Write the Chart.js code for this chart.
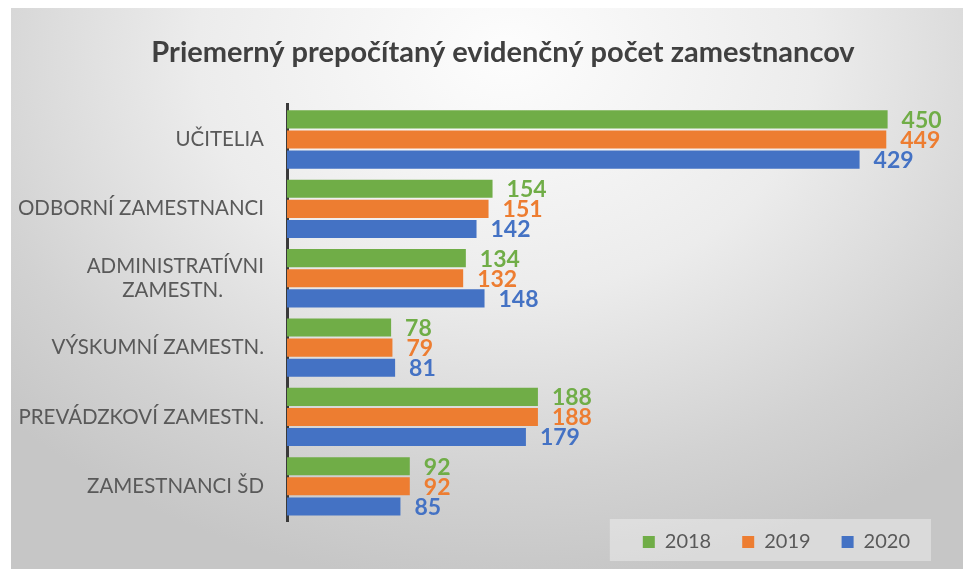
<!DOCTYPE html>
<html>
<head>
<meta charset="utf-8">
<title>Priemerný prepočítaný evidenčný počet zamestnancov</title>
<script src="https://cdn.jsdelivr.net/npm/chart.js@4.4.0/dist/chart.umd.min.js"></script>
<style>
  html, body { margin: 0; padding: 0; background: #fff; overflow: hidden; }
  #panel {
    position: absolute;
    left: 11px;
    top: 8px;
    width: 952px;
    height: 561px;
    background: radial-gradient(ellipse 72% 95% at 52% 8%, #fdfdfd 0%, #ececec 45%, #d2d2d2 80%, #c6c6c6 100%);
  }
</style>
</head>
<body>
<div id="panel"><canvas id="chart"></canvas></div>
<script>
const categories = [
  "UČITELIA",
  "ODBORNÍ ZAMESTNANCI",
  ["ADMINISTRATÍVNI", "ZAMESTN.\u2002\u2002\u2002\u2002"],
  "VÝSKUMNÍ ZAMESTN.",
  "PREVÁDZKOVÍ ZAMESTN.",
  "ZAMESTNANCI ŠD",
];
const years = ["2018", "2019", "2020"];
const values2018 = [450, 154, 134, 78, 188, 92];
const values2019 = [449, 151, 132, 79, 188, 92];
const values2020 = [429, 142, 148, 81, 179, 85];
const colors = ["#70ad47", "#ed7d31", "#4472c4"];

const FONT = "Lato, 'Open Sans', sans-serif";

// value labels next to each bar end
const valueLabels = {
  id: "valueLabels",
  afterDatasetsDraw(chart) {
    const ctx = chart.ctx;
    ctx.save();
    ctx.font = "bold 23px " + FONT;
    ctx.textBaseline = "middle";
    ctx.textAlign = "left";
    chart.data.datasets.forEach((ds, i) => {
      const meta = chart.getDatasetMeta(i);
      ctx.fillStyle = ds.backgroundColor;
      meta.data.forEach((bar, j) => {
        ctx.fillText(ds.data[j], bar.x + 14, bar.y + 1);
      });
    });
    ctx.restore();
  },
};

// lighter box behind the legend
const legendBox = {
  id: "legendBox",
  beforeDraw(chart) {
    const legend = chart.legend;
    if (!legend || !legend.legendHitBoxes.length) return;
    const boxes = legend.legendHitBoxes;
    const first = boxes[0];
    const last = boxes[boxes.length - 1];
    const x0 = first.left - 33;
    const x1 = last.left + last.width + 1;
    const ctx = chart.ctx;
    ctx.save();
    ctx.fillStyle = "rgba(255,255,255,0.35)";
    ctx.fillRect(x0, legend.top - 2, x1 - x0, 42);
    ctx.restore();
  },
};

// title is centred a bit right of the canvas middle
const shiftTitle = {
  id: "shiftTitle",
  afterLayout(chart) {
    if (chart.titleBlock) chart.titleBlock.left = 54;
  },
};

const canvas = document.getElementById("chart");

new Chart(canvas, {
  type: "bar",
  data: {
    labels: categories,
    datasets: [
      { label: years[0], data: values2018, backgroundColor: colors[0], borderWidth: 0 },
      { label: years[1], data: values2019, backgroundColor: colors[1], borderWidth: 0 },
      { label: years[2], data: values2020, backgroundColor: colors[2], borderWidth: 0 },
    ],
  },
  options: {
    indexAxis: "y",
    responsive: true,
    maintainAspectRatio: false,
    animation: false,
    categoryPercentage: 0.87,
    barPercentage: 0.9,
    layout: { padding: { left: 0, right: 22, top: 0, bottom: 7 } },
    scales: {
      x: { display: false, min: 0, max: 490 },
      y: {
        grid: { display: false, drawTicks: false },
        border: { display: true, color: "#3a3a3a", width: 3 },
        ticks: {
          color: "#595959",
          font: { family: FONT, size: 20.5 },
          padding: 23,
        },
        afterFit: (scale) => {
          scale.width = 276;
        },
      },
    },
    plugins: {
      title: {
        display: true,
        text: "Priemerný prepočítaný evidenčný počet zamestnancov",
        color: "#404040",
        font: { family: FONT, size: 29, weight: "bold" },
        padding: { top: 27, bottom: 35 },
      },
      legend: {
        position: "bottom",
        align: "end",
        labels: {
          boxWidth: 12,
          boxHeight: 12,
          padding: 11,
          color: "#595959",
          font: { family: FONT, size: 20 },
          generateLabels: (chart) =>
            Chart.defaults.plugins.legend.labels
              .generateLabels(chart)
              .map((item) => ({ ...item, text: item.text + "\u2002\u2002" })),
        },
      },
      tooltip: { enabled: false },
    },
  },
  plugins: [legendBox, shiftTitle, valueLabels],
});
</script>
</body>
</html>
